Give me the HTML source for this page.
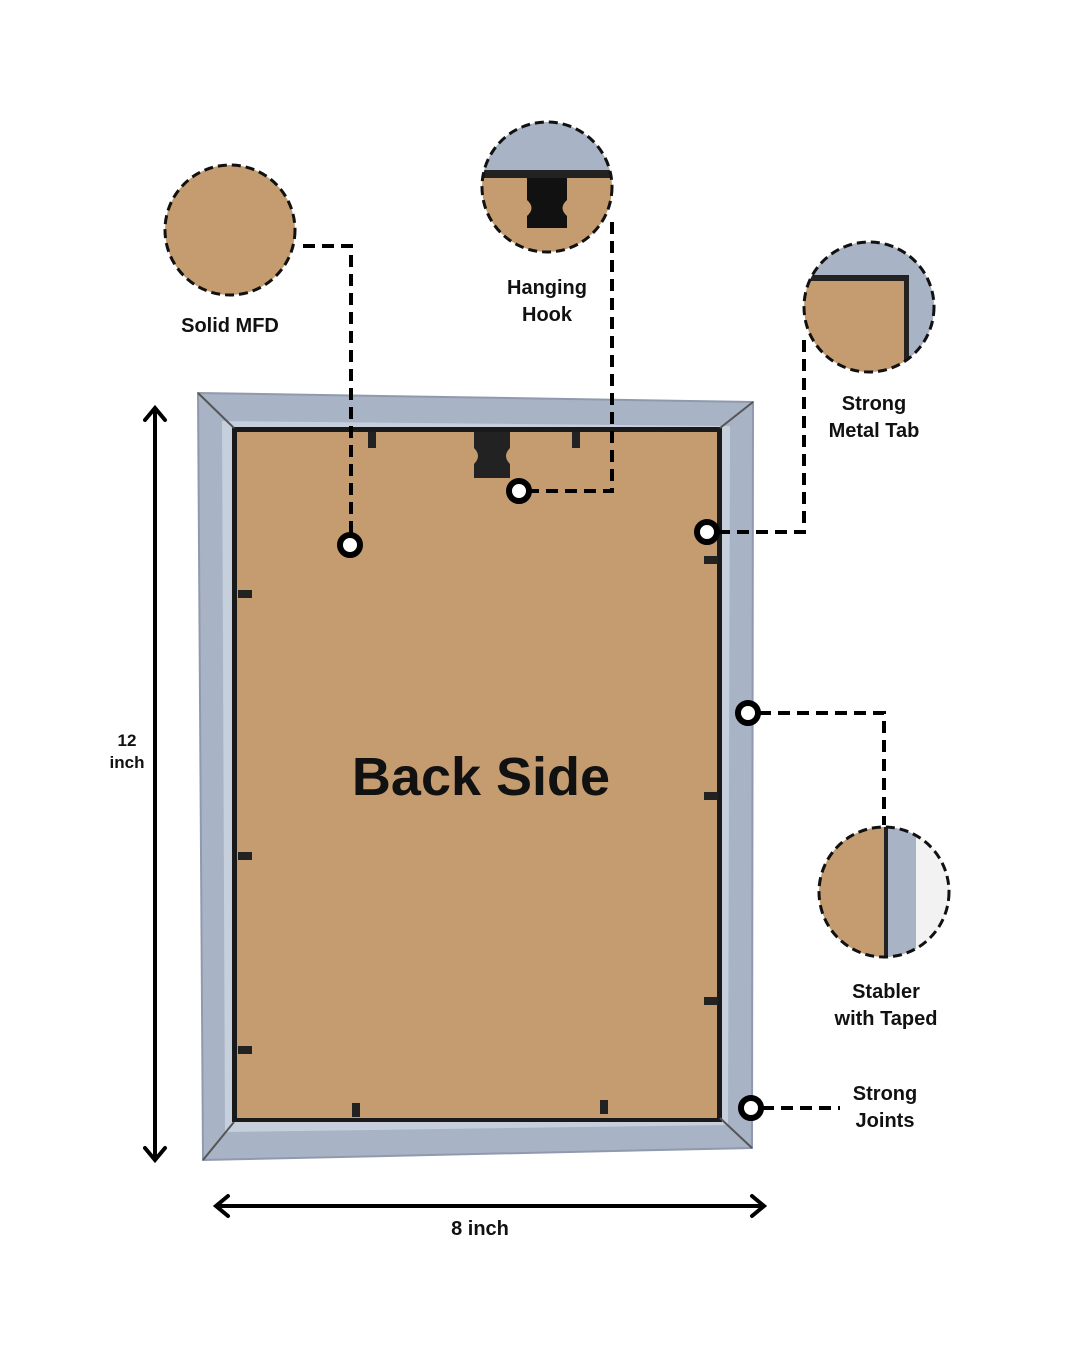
<!DOCTYPE html>
<html><head><meta charset="utf-8"><style>
html,body{margin:0;padding:0;background:#fff;}
svg{display:block}
text{font-family:"Liberation Sans",sans-serif;font-weight:bold;fill:#111;}
</style></head><body>
<svg width="1080" height="1350" viewBox="0 0 1080 1350" xmlns="http://www.w3.org/2000/svg">
<defs>
<clipPath id="c1"><circle cx="230" cy="230" r="65"/></clipPath>
<clipPath id="c2"><circle cx="547" cy="187" r="65"/></clipPath>
<clipPath id="c3"><circle cx="869" cy="307" r="65"/></clipPath>
<clipPath id="c4"><circle cx="884" cy="892" r="65"/></clipPath>
</defs>
<!-- frame -->
<polygon points="198,393 753,402 752,1148 203,1160" fill="#a8b3c5"/>
<polygon points="198,393 753,402 752,1148 203,1160" fill="none" stroke="#8f9aae" stroke-width="2"/>
<polygon points="222,421 730,426 728,1125 225,1132" fill="#c6cfdc"/>
<rect x="232" y="427" width="490" height="695" fill="#1a1a1a"/>
<rect x="237" y="432" width="480" height="686" fill="#c49c70"/>
<line x1="198" y1="393" x2="234" y2="428" stroke="#555" stroke-width="2"/>
<line x1="753" y1="402" x2="720" y2="428" stroke="#555" stroke-width="2"/>
<line x1="752" y1="1148" x2="720" y2="1118" stroke="#555" stroke-width="2"/>
<line x1="203" y1="1160" x2="234" y2="1122" stroke="#555" stroke-width="2"/>
<!-- tabs -->
<g fill="#222">
<rect x="368" y="432" width="8" height="16"/><rect x="572" y="432" width="8" height="16"/>
<rect x="238" y="590" width="14" height="8"/><rect x="238" y="852" width="14" height="8"/><rect x="238" y="1046" width="14" height="8"/>
<rect x="704" y="556" width="14" height="8"/><rect x="704" y="792" width="14" height="8"/><rect x="704" y="997" width="14" height="8"/>
<rect x="352" y="1103" width="8" height="14"/><rect x="600" y="1100" width="8" height="14"/>
<path d="M474 432 H510 V448 Q502 456 510 464 V478 H474 V464 Q482 456 474 448 Z"/>
</g>
<text x="481" y="795" font-size="54" text-anchor="middle" style="font-weight:900">Back Side</text>
<!-- circles -->
<g clip-path="url(#c1)"><rect x="160" y="160" width="140" height="140" fill="#c49c70"/></g>
<circle cx="230" cy="230" r="65" fill="none" stroke="#111" stroke-width="3" stroke-dasharray="9,5"/>
<g clip-path="url(#c2)"><rect x="480" y="120" width="140" height="140" fill="#c49c70"/><rect x="480" y="120" width="140" height="50" fill="#a8b3c5"/><rect x="480" y="170" width="140" height="8" fill="#222"/><path d="M527 178 H567 V200 Q558 208 567 216 V228 H527 V216 Q536 208 527 200Z" fill="#111"/></g>
<circle cx="547" cy="187" r="65" fill="none" stroke="#111" stroke-width="3" stroke-dasharray="9,5"/>
<g clip-path="url(#c3)"><rect x="800" y="240" width="140" height="140" fill="#c49c70"/><rect x="800" y="240" width="140" height="35" fill="#a8b3c5"/><rect x="908" y="240" width="40" height="140" fill="#a8b3c5"/><rect x="800" y="275" width="108" height="6" fill="#222"/><rect x="904" y="275" width="5" height="110" fill="#222"/></g>
<circle cx="869" cy="307" r="65" fill="none" stroke="#111" stroke-width="3" stroke-dasharray="9,5"/>
<g clip-path="url(#c4)"><rect x="815" y="825" width="140" height="140" fill="#c49c70"/><rect x="886" y="825" width="30" height="140" fill="#a8b3c5"/><rect x="916" y="825" width="40" height="140" fill="#f2f2f2"/><rect x="884" y="825" width="4" height="140" fill="#222"/></g>
<circle cx="884" cy="892" r="65" fill="none" stroke="#111" stroke-width="3" stroke-dasharray="9,5"/>
<!-- connectors -->
<g fill="none" stroke="#000" stroke-width="4" stroke-dasharray="12,7">
<polyline points="303,246 351,246 351,534"/>
<polyline points="612,222 612,491 530,491"/>
<polyline points="804,340 804,532 718,532"/>
<polyline points="759,713 884,713 884,825"/>
<polyline points="762,1108 840,1108"/>
</g>
<g fill="#fff" stroke="#000" stroke-width="6">
<circle cx="350" cy="545" r="10"/><circle cx="519" cy="491" r="10"/><circle cx="707" cy="532" r="10"/><circle cx="748" cy="713" r="10"/><circle cx="751" cy="1108" r="10"/>
</g>
<!-- labels -->
<g font-size="20" text-anchor="middle">
<text x="230" y="332">Solid MFD</text>
<text x="547" y="294">Hanging</text><text x="547" y="321">Hook</text>
<text x="874" y="410">Strong</text><text x="874" y="437">Metal Tab</text>
<text x="886" y="998">Stabler</text><text x="886" y="1025">with Taped</text>
<text x="885" y="1100">Strong</text><text x="885" y="1127">Joints</text>
<text x="480" y="1235">8 inch</text>
</g>
<g font-size="17" text-anchor="middle"><text x="127" y="746">12</text><text x="127" y="768">inch</text></g>
<!-- dimension arrows -->
<g stroke="#000" stroke-width="4" fill="none" stroke-linecap="round">
<line x1="155" y1="410" x2="155" y2="1158"/>
<polyline points="145,420 155,408 165,420"/><polyline points="145,1148 155,1160 165,1148"/>
<line x1="218" y1="1206" x2="762" y2="1206"/>
<polyline points="228,1196 216,1206 228,1216"/><polyline points="752,1196 764,1206 752,1216"/>
</g>
</svg>
</body></html>
